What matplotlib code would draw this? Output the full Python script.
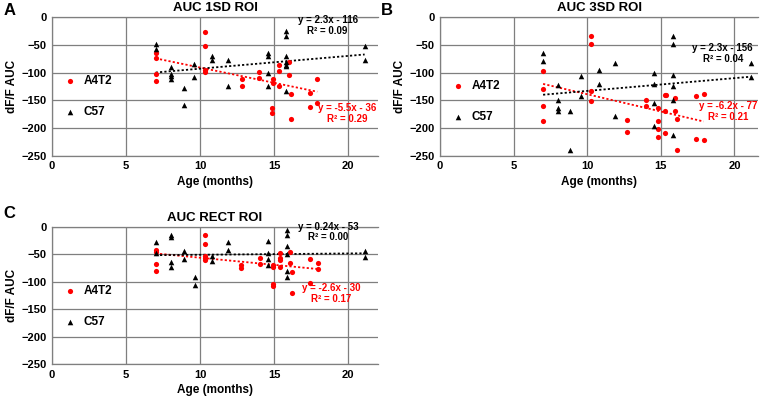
import numpy as np
import matplotlib.pyplot as plt

plt.rcParams['font.family'] = ['Liberation Sans', 'DejaVu Sans']
plt.rcParams['font.weight'] = 'bold'

# ---- panel A: AUC 1SD ROI
a_red_x = [7, 7, 7, 7, 10.3, 10.3, 10.3, 10.3, 12.8, 12.8, 14.0, 14.0, 14.88, 14.88, 14.9, 14.9,
           15.35, 15.35, 15.35, 16.0, 16.0, 16.13, 16.13, 17.4, 17.4, 17.9, 17.9]
a_red_y = [-64, -74, -102, -116, -27, -53, -96, -99, -112, -125, -99, -110, -164, -172, -111, -119,
           -87, -98, -125, -81, -105, -139, -184, -136, -162, -111, -154]
a_blk_x = [7, 7, 8, 8, 8, 8, 8.88, 8.88, 9.6, 9.6, 10.8, 10.8, 11.9, 11.9, 14.56, 14.56, 14.56, 14.56,
           15.8, 15.8, 15.8, 15.8, 15.8, 15.8, 15.8, 21.1, 21.1]
a_blk_y = [-49, -58, -90, -102, -107, -111, -128, -158, -84, -108, -71, -77, -77, -125, -65, -70, -101, -125,
           -25, -35, -71, -81, -86, -89, -133, -52, -77]

# ---- panel B: AUC 3SD ROI
b_red_x = [7, 7, 7, 7, 10.24, 10.24, 10.24, 10.24, 12.72, 12.72, 13.97, 13.97, 14.83, 14.83, 14.83, 14.83,
           15.3, 15.35, 15.3, 15.3, 15.98, 15.98, 16.1, 16.1, 17.4, 17.4, 17.9, 17.9]
b_red_y = [-97, -130, -161, -187, -34, -49, -134, -151, -186, -207, -149, -161, -163, -187, -202, -216,
           -140, -140, -169, -208, -145, -169, -183, -240, -143, -220, -139, -222]
b_blk_x = [7, 7, 8, 8, 8, 8, 8.86, 8.86, 9.6, 9.6, 10.78, 10.78, 11.86, 11.86, 14.53, 14.53, 14.53, 14.53,
           15.8, 15.8, 15.8, 15.8, 15.8, 15.8, 21.1, 21.1]
b_blk_y = [-64, -79, -122, -149, -164, -169, -169, -240, -106, -142, -96, -120, -83, -178, -101, -121, -154, -196,
           -35, -49, -104, -124, -149, -213, -82, -108]

# ---- panel C: AUC RECT ROI
c_red_x = [7, 7, 7, 7, 10.3, 10.3, 10.3, 10.3, 10.3, 12.78, 12.78, 14.06, 14.06, 14.9, 14.9, 14.9, 14.9,
           15.36, 15.36, 15.36, 15.4, 16.03, 16.03, 16.19, 16.19, 17.4, 17.4, 17.94, 17.94]
c_red_y = [-41, -45, -68, -80, -14.5, -31, -53, -57, -60, -70, -74, -57, -67, -70, -73, -104, -108,
           -48, -57, -61, -73, -45, -65, -82, -120, -59, -103, -65, -77]
c_blk_x = [7, 7, 8, 8, 8, 8, 8.92, 8.92, 9.66, 9.66, 10.83, 10.83, 11.9, 11.9, 14.57, 14.57, 14.57, 14.57,
           15.85, 15.85, 15.85, 15.85, 15.85, 15.85, 21.1, 21.1]
c_blk_y = [-28, -48, -15, -19, -64, -73, -44, -58, -91, -106, -53, -62, -28, -41, -25, -47, -59, -70,
           -6, -15, -35, -50, -81, -92, -44, -55]

titles = ['AUC 1SD ROI', 'AUC 3SD ROI', 'AUC RECT ROI']
letters = ['A', 'B', 'C']
# trendline coefficients as printed on the chart
red_fit = [(-5.5, -36, 0.29), (-6.2, -77, 0.21), (-2.6, -30, 0.17)]
blk_fit = [(2.3, -116, 0.09), (2.3, -156, 0.04), (0.24, -53, 0.00)]
blk_lbl = ['y = 2.3x - 116', 'y = 2.3x - 156', 'y = 0.24x - 53']
red_lbl = ['y = -5.5x - 36', 'y = -6.2x - 77', 'y = -2.6x - 30']
blk_lbl_pos = [(18.6, -16), (19.2, -65), (18.65, -9)]
red_lbl_pos = [(19.9, -173), (19.6, -170), (18.85, -121)]

red = '#ff0000'
grid_c = '#7f7f7f'

fig = plt.figure(figsize=(7.67, 4.04), dpi=100)
axA = fig.add_axes([0.0678, 0.614, 0.425, 0.344])
axB = fig.add_axes([0.5737, 0.614, 0.4146, 0.344])
axC = fig.add_axes([0.0678, 0.099, 0.425, 0.339])
axes = [axA, axB, axC]
xmax = [22, 21.6, 22]
leg_y = [0.43, 0.39, 0.42]

data = [(a_red_x, a_red_y, a_blk_x, a_blk_y),
        (b_red_x, b_red_y, b_blk_x, b_blk_y),
        (c_red_x, c_red_y, c_blk_x, c_blk_y)]

for i, ax in enumerate(axes):
    rx, ry, bx, by = data[i]
    ax.scatter(rx, ry, s=14, marker='o', color=red, zorder=3, label='A4T2', linewidths=0)
    ax.scatter(bx, by, s=16, marker='^', color='black', zorder=3, label='C57', linewidths=0)

    xr = np.array([min(rx), max(rx)])
    m, b, r2 = red_fit[i]
    ax.plot(xr, m * xr + b, color=red, ls=(0, (1.2, 1.2)), lw=1.3, zorder=2)
    xb = np.array([min(bx), max(bx)])
    m2, b2, r22 = blk_fit[i]
    ax.plot(xb, m2 * xb + b2, color='black', ls=(0, (1.2, 1.2)), lw=1.3, zorder=2)

    tx, ty = blk_lbl_pos[i]
    ax.text(tx, ty, blk_lbl[i] + '\nR\u00b2 = %.2f' % r22, ha='center', va='center',
            fontsize=7, fontweight='bold', color='black', linespacing=1.1, zorder=4)
    tx, ty = red_lbl_pos[i]
    ax.text(tx, ty, red_lbl[i] + '\nR\u00b2 = %.2f' % r2, ha='center', va='center',
            fontsize=7, fontweight='bold', color=red, linespacing=1.1, zorder=4)

    ax.set_xlim(0, xmax[i])
    ax.set_ylim(-250, 0)
    ax.set_xticks([0, 5, 10, 15, 20])
    ax.set_yticks([0, -50, -100, -150, -200, -250])
    ax.grid(True, color=grid_c, lw=0.9)
    ax.set_axisbelow(True)
    ax.tick_params(length=0, labelsize=8, pad=4)
    for lab in ax.get_xticklabels() + ax.get_yticklabels():
        lab.set_fontweight('bold')
    for sp in ['left', 'bottom', 'top']:
        ax.spines[sp].set_color(grid_c)
        ax.spines[sp].set_linewidth(0.9)
    ax.spines['right'].set_visible(False)
    ax.set_xlabel('Age (months)', fontsize=8.5, fontweight='bold', labelpad=3)
    ax.set_ylabel('dF/F AUC', fontsize=8.5, fontweight='bold', labelpad=2)
    ax.set_title(titles[i], fontsize=9.5, fontweight='bold', pad=4)
    ax.legend(loc='center left', bbox_to_anchor=(0.0, leg_y[i]), frameon=False,
              prop={'size': 8.5, 'weight': 'bold'}, labelspacing=1.6,
              handletextpad=0.6, borderaxespad=0.5, handlelength=1.2)

fig.text(0.005, 0.975, 'A', fontsize=12, fontweight='bold', va='center')
fig.text(0.497, 0.975, 'B', fontsize=12, fontweight='bold', va='center')
fig.text(0.005, 0.472, 'C', fontsize=12, fontweight='bold', va='center')

fig.savefig('out.png', dpi=100)
